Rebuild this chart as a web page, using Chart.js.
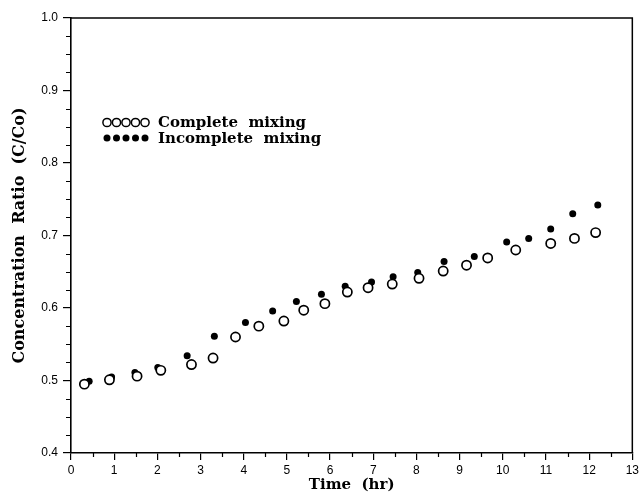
<!DOCTYPE html>
<html><head><meta charset="utf-8">
<script src="https://cdn.jsdelivr.net/npm/chart.js@4.4.0/dist/chart.umd.min.js"></script>
<style>html,body{margin:0;padding:0;background:#fff}</style>
</head><body>
<canvas id="c" width="642" height="496"></canvas>
<script>
// ---- data ----
const completeTime = [0.31,0.89,1.53,2.08,2.79,3.29,3.81,4.35,4.93,5.39,5.88,6.40,6.88,7.44,8.06,8.62,9.16,9.65,10.30,11.11,11.66,12.15];
const completeRatio = [0.495,0.501,0.506,0.514,0.522,0.531,0.560,0.575,0.582,0.597,0.606,0.622,0.628,0.633,0.641,0.651,0.659,0.669,0.680,0.689,0.696,0.704];
const incompleteTime = [0.42,0.94,1.48,2.01,2.69,3.32,4.04,4.67,5.22,5.80,6.35,6.96,7.46,8.03,8.64,9.34,10.09,10.60,11.11,11.62,12.20];
const incompleteRatio = [0.499,0.505,0.511,0.518,0.534,0.561,0.580,0.596,0.609,0.619,0.630,0.636,0.643,0.649,0.664,0.671,0.691,0.696,0.709,0.730,0.742];
const seriesLabels = ["Complete  mixing", "Incomplete  mixing"];
const xAxisTitle = "Time  (hr)";
const yAxisTitle = "Concentration  Ratio  (C/Co)";
const xRange = [0, 13];
const yRange = [0.4, 1.0];

const toPoints = (xs, ys) => xs.map((x, i) => ({x: x, y: ys[i]}));
const tickFont = {family: "Liberation Sans", size: 12};

const framePlugin = {
  id: "frame",
  afterDraw(chart) {
    const {ctx, chartArea: a, scales: {x, y}} = chart;
    ctx.save();
    ctx.strokeStyle = "#000";
    ctx.lineWidth = 1.2;
    ctx.beginPath();
    for (let v = xRange[0] + 0.5; v < xRange[1]; v += 1) {
      const px = Math.round(x.getPixelForValue(v)) + 0.5;
      ctx.moveTo(px, a.bottom); ctx.lineTo(px, a.bottom + 4);
    }
    for (let i = 1; i < 24; i++) {
      if (i % 4 === 0) continue;
      const py = Math.round(y.getPixelForValue(yRange[0] + i * 0.025)) + 0.5;
      ctx.moveTo(a.left, py); ctx.lineTo(a.left - 5, py);
    }
    ctx.stroke();
    ctx.lineWidth = 1.5;
    ctx.beginPath();
    ctx.moveTo(a.left, a.top); ctx.lineTo(a.right, a.top); ctx.lineTo(a.right, a.bottom);
    ctx.stroke();
    // legend
    const ds = chart.data.datasets;
    ctx.fillStyle = "#000";
    ctx.font = "bold 15px 'DejaVu Serif'";
    ctx.textBaseline = "middle";
    const rows = [122.5, 138];
    ds.forEach((d, j) => {
      for (let k = 0; k < 5; k++) {
        const cx = 107 + k * 9.5;
        ctx.beginPath();
        if (j === 0) {
          ctx.lineWidth = 1.5;
          ctx.arc(cx, rows[j], 4.1, 0, Math.PI * 2);
          ctx.stroke();
        } else {
          ctx.arc(cx, rows[j], 3.5, 0, Math.PI * 2);
          ctx.fill();
        }
      }
      ctx.fillText(d.label, 158, rows[j] + 1);
    });
    ctx.restore();
  }
};

new Chart(document.getElementById("c"), {
  type: "scatter",
  data: {
    datasets: [
      {label: seriesLabels[0], data: toPoints(completeTime, completeRatio), order: 0,
       pointRadius: 4.6, pointBorderWidth: 1.7, pointBackgroundColor: "#fff", pointBorderColor: "#000"},
      {label: seriesLabels[1], data: toPoints(incompleteTime, incompleteRatio), order: 1,
       pointRadius: 3.5, pointBorderWidth: 0, pointBackgroundColor: "#000", pointBorderColor: "#000"}
    ]
  },
  options: {
    responsive: false,
    animation: false,
    devicePixelRatio: 1,
    layout: {padding: {top: 18, right: 9, left: 0, bottom: 0}},
    plugins: {legend: {display: false}, tooltip: {enabled: false}},
    scales: {
      x: {
        type: "linear", min: xRange[0], max: xRange[1],
        ticks: {stepSize: 1, color: "#000", font: tickFont, padding: 3, maxRotation: 0, autoSkip: false},
        grid: {drawOnChartArea: false, drawTicks: true, tickLength: 7, color: "#000", lineWidth: 1.2},
        border: {display: true, color: "#000", width: 1.6},
        title: {display: true, text: xAxisTitle, color: "#000",
                font: {family: "DejaVu Serif", weight: "bold", size: 15}, padding: {top: 0, bottom: 2}},
        afterFit: s => { s.height = 43; }
      },
      y: {
        type: "linear", min: yRange[0], max: yRange[1],
        ticks: {stepSize: 0.1, color: "#000", font: tickFont, padding: 5, callback: v => Number(v).toFixed(1)},
        grid: {drawOnChartArea: false, drawTicks: true, tickLength: 8, color: "#000", lineWidth: 1.2},
        border: {display: true, color: "#000", width: 1.6},
        title: {display: true, text: yAxisTitle, color: "#000",
                font: {family: "DejaVu Serif", weight: "bold", size: 16}, padding: {top: 10, bottom: 0}},
        afterFit: s => { s.width = 71; }
      }
    }
  },
  plugins: [framePlugin]
});
</script>
</body></html>
